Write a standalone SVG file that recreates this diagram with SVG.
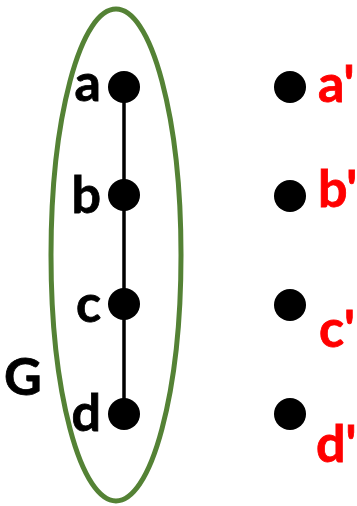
<svg xmlns="http://www.w3.org/2000/svg" width="357" height="506" viewBox="0 0 357 506">
<style>
.lbl{font-family:Lato,"Liberation Sans",sans-serif;font-weight:bold;font-size:52px;fill:#000;stroke:#000;stroke-width:0.8}
.red{fill:#ff0000;stroke:#ff0000}
.dot{fill:#000}
.edge{stroke:#000;stroke-width:3.5;fill:none}
</style>
<rect width="357" height="506" fill="#fff"/>
<g id="G">
<ellipse cx="116" cy="255" rx="65" ry="246" fill="none" stroke="#548235" stroke-width="5"/>
<text class="lbl" x="4" y="395">G</text>
</g>
<g id="connectors">
<line class="edge" x1="124" y1="87" x2="124" y2="195"/>
<line class="edge" x1="124" y1="195" x2="124" y2="304"/>
<line class="edge" x1="124" y1="304" x2="124" y2="414"/>
</g>
<g id="a"><circle class="dot" cx="124" cy="87" r="16"/><text class="lbl" x="101" y="101" text-anchor="end">a</text></g>
<g id="b"><circle class="dot" cx="124" cy="195" r="16"/><text class="lbl" x="101" y="213" text-anchor="end">b</text></g>
<g id="c"><circle class="dot" cx="124" cy="304" r="16"/><text class="lbl" x="101" y="322" text-anchor="end">c</text></g>
<g id="d"><circle class="dot" cx="124" cy="414" r="16"/><text class="lbl" x="101" y="431" text-anchor="end">d</text></g>
<g id="a2"><circle class="dot" cx="290" cy="87" r="16"/><text class="lbl red" x="318" y="102">a'</text></g>
<g id="b2"><circle class="dot" cx="290" cy="196" r="16"/><text class="lbl red" x="318" y="207">b'</text></g>
<g id="c2"><circle class="dot" cx="290" cy="305" r="16"/><text class="lbl red" x="319" y="347">c'</text></g>
<g id="d2"><circle class="dot" cx="290" cy="414" r="16"/><text class="lbl red" x="316" y="462">d'</text></g>
</svg>
